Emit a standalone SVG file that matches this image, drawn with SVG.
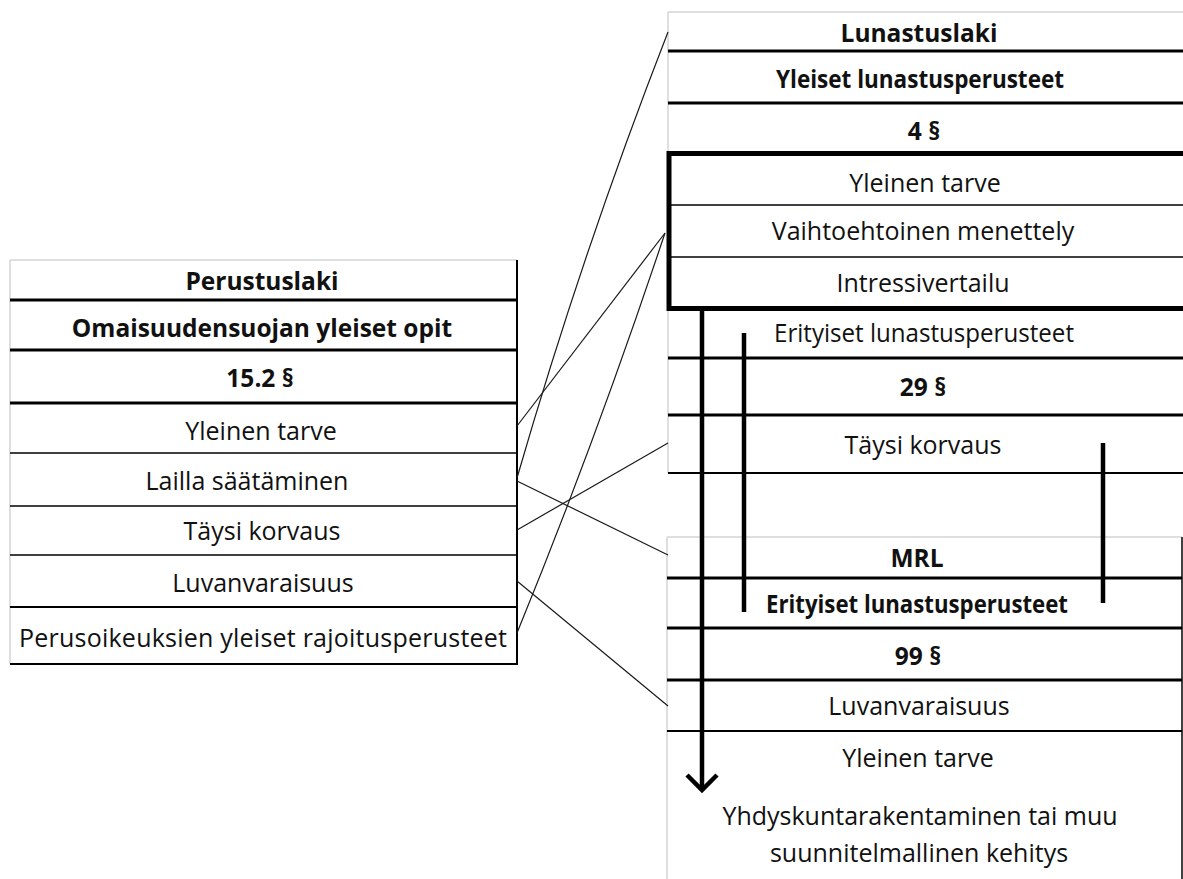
<svg xmlns="http://www.w3.org/2000/svg" width="1183" height="879" viewBox="0 0 1183 879">
<style>
text{font-family:"Open Sans","Liberation Sans",sans-serif;font-size:25px;fill:#111;text-anchor:middle}
.b{font-weight:bold;font-size:24.5px}
.g{stroke:#d4d4d4;stroke-width:1.5;fill:none}
.k3{stroke:#000;stroke-width:3;fill:none}
.k2{stroke:#000;stroke-width:2;fill:none}
.k1{stroke:#000;stroke-width:1.5;fill:none}
.box{stroke:#000;stroke-width:5;fill:none}
.bar{stroke:#000;stroke-width:4.5;fill:none}
.c{stroke:#1a1a1a;stroke-width:1.2;fill:none}
</style>
<rect width="1183" height="879" fill="#fff"/>
<g id="perustuslaki">
<line class="g" x1="10" y1="260" x2="517" y2="260"/>
<line class="g" x1="10" y1="260" x2="10" y2="664"/>
<line class="k3" x1="10" y1="300" x2="517" y2="300"/>
<line class="k3" x1="10" y1="350" x2="517" y2="350"/>
<line class="k3" x1="10" y1="403" x2="517" y2="403"/>
<line class="k1" x1="10" y1="453" x2="517" y2="453"/>
<line class="k1" x1="10" y1="506" x2="517" y2="506"/>
<line class="k1" x1="10" y1="555" x2="517" y2="555"/>
<line class="k2" x1="10" y1="607" x2="517" y2="607"/>
<line class="k2" x1="10" y1="664" x2="518" y2="664"/>
<line class="k2" x1="517" y1="260" x2="517" y2="664"/>
<text class="b" x="262" y="290">Perustuslaki</text>
<text class="b" x="262" y="337">Omaisuudensuojan yleiset opit</text>
<text class="b" x="260" y="387">15.2 §</text>
<text x="261" y="440">Yleinen tarve</text>
<text x="247" y="490">Lailla säätäminen</text>
<text x="262" y="540">Täysi korvaus</text>
<text x="263" y="592">Luvanvaraisuus</text>
<text x="263" y="647" textLength="488" lengthAdjust="spacing">Perusoikeuksien yleiset rajoitusperusteet</text>
</g>
<g id="lunastuslaki">
<line class="g" x1="668" y1="12" x2="1183" y2="12"/>
<line class="g" x1="668" y1="12" x2="668" y2="473"/>
<line class="k3" x1="668" y1="51" x2="1183" y2="51"/>
<line class="k3" x1="668" y1="103" x2="1183" y2="103"/>
<rect class="box" x="669" y="153.5" width="530" height="155"/>
<line class="k1" x1="668" y1="205" x2="1183" y2="205"/>
<line class="k1" x1="668" y1="257" x2="1183" y2="257"/>
<line class="k3" x1="668" y1="358" x2="1183" y2="358"/>
<line class="k3" x1="668" y1="415" x2="1183" y2="415"/>
<line class="k2" x1="668" y1="473" x2="1183" y2="473"/>
<text class="b" x="919" y="42">Lunastuslaki</text>
<text class="b" x="920" y="88" textLength="288" lengthAdjust="spacingAndGlyphs">Yleiset lunastusperusteet</text>
<text class="b" x="924" y="140">4 §</text>
<text x="925" y="192">Yleinen tarve</text>
<text x="923" y="240">Vaihtoehtoinen menettely</text>
<text x="923" y="292">Intressivertailu</text>
<text x="924" y="342" textLength="300" lengthAdjust="spacingAndGlyphs">Erityiset lunastusperusteet</text>
<text class="b" x="923" y="396">29 §</text>
<text x="923" y="454">Täysi korvaus</text>
</g>
<g id="mrl">
<line class="g" x1="667" y1="537" x2="1182" y2="537"/>
<line class="g" x1="667" y1="537" x2="667" y2="879"/>
<line class="k1" x1="1182" y1="537" x2="1182" y2="879"/>
<line class="k3" x1="667" y1="578" x2="1182" y2="578"/>
<line class="k3" x1="667" y1="628" x2="1182" y2="628"/>
<line class="k3" x1="667" y1="680" x2="1182" y2="680"/>
<line class="k2" x1="667" y1="731" x2="1182" y2="731"/>
<text class="b" x="917" y="567">MRL</text>
<text class="b" x="917" y="613" textLength="302" lengthAdjust="spacingAndGlyphs">Erityiset lunastusperusteet</text>
<text class="b" x="918" y="665">99 §</text>
<text x="919" y="715">Luvanvaraisuus</text>
<text x="918" y="767">Yleinen tarve</text>
<text x="920" y="825">Yhdyskuntarakentaminen tai muu</text>
<text x="919" y="862">suunnitelmallinen kehitys</text>
</g>
<g id="connectors">
<path class="c" d="M517,478 Q583,250 668,32"/>
<path class="c" d="M517,426 L665,233"/>
<path class="c" d="M517,633 Q596,440 665,233"/>
<path class="c" d="M517,481 L668,555"/>
<path class="c" d="M517,530 L668,443"/>
<path class="c" d="M517,581 L668,706"/>
<line class="bar" x1="702" y1="308" x2="702" y2="788"/>
<polyline class="bar" points="687,775 702,790 717,775"/>
<line class="bar" x1="744" y1="333" x2="744" y2="612"/>
<line class="bar" x1="1103" y1="443" x2="1103" y2="603"/>
</g>
</svg>
